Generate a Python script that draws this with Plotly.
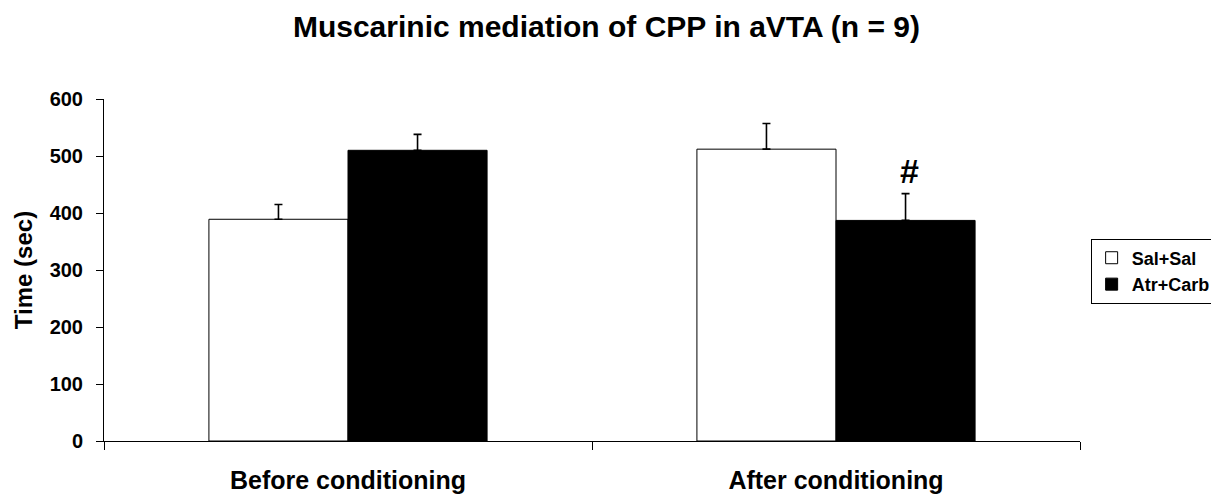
import plotly.graph_objects as go

categories = ["Before conditioning", "After conditioning"]
sal_sal = [389, 512]
sal_sal_err = [26, 45]
atr_carb = [510, 387]
atr_carb_err = [28, 47]
y_ticks = [0, 100, 200, 300, 400, 500, 600]
marker_label = "#"
marker_value = 474

FONT = "Liberation Sans, Arial, sans-serif"

fig = go.Figure()
fig.add_trace(go.Bar(
    name="Sal+Sal", x=categories, y=sal_sal,
    marker=dict(color="white", line=dict(color="black", width=1)),
    error_y=dict(type="data", array=sal_sal_err, arrayminus=[0, 0], symmetric=False,
                 color="black", thickness=1.6, width=4),
))
fig.add_trace(go.Bar(
    name="Atr+Carb", x=categories, y=atr_carb,
    marker=dict(color="black", line=dict(color="black", width=1)),
    error_y=dict(type="data", array=atr_carb_err, arrayminus=[0, 0], symmetric=False,
                 color="black", thickness=1.6, width=4),
))

fig.add_annotation(x=categories[1], xshift=73, y=marker_value, yanchor="middle",
                   text="<b>" + marker_label + "</b>", showarrow=False,
                   font=dict(family=FONT, size=34, color="black"))

fig.update_layout(
    width=1211, height=488,
    paper_bgcolor="white", plot_bgcolor="white",
    margin=dict(l=96, r=139, t=91, b=55, autoexpand=False),
    barmode="group", bargap=0.43, bargroupgap=0,
    title=dict(text="<b>Muscarinic mediation of CPP in aVTA (n = 9)</b>",
               x=0.4942, xref="container", xanchor="center", y=0.962, yref="container",
               yanchor="middle",
               font=dict(family=FONT, size=30, color="black")),
    font=dict(family=FONT, color="black"),
    legend=dict(x=0.894, xref="container", xanchor="left",
                y=0.461, yref="container", yanchor="middle",
                bordercolor="black", borderwidth=1, bgcolor="white",
                font=dict(family=FONT, size=18, color="black", weight="bold"),
                itemwidth=30, tracegroupgap=2),
    showlegend=True,
)
fig.update_xaxes(
    showline=True, linecolor="black", linewidth=1, automargin=False,
    ticks="outside", tickson="boundaries", ticklen=8, tickcolor="black",
    tickfont=dict(family=FONT, size=25, color="black", weight="bold"),
    ticklabelstandoff=17,
    showgrid=False, zeroline=False,
)
fig.update_yaxes(
    range=[0, 600], tickvals=y_ticks, automargin=False,
    showline=True, linecolor="black", linewidth=1,
    ticks="outside", ticklen=7, tickcolor="black",
    tickfont=dict(family=FONT, size=20, color="black", weight="bold"),
    ticklabelstandoff=9,
    showgrid=False, zeroline=False,
    title=dict(text="<b>Time (sec)</b>", font=dict(family=FONT, size=24, color="black"), standoff=10),
)

fig.write_html("out.html")
